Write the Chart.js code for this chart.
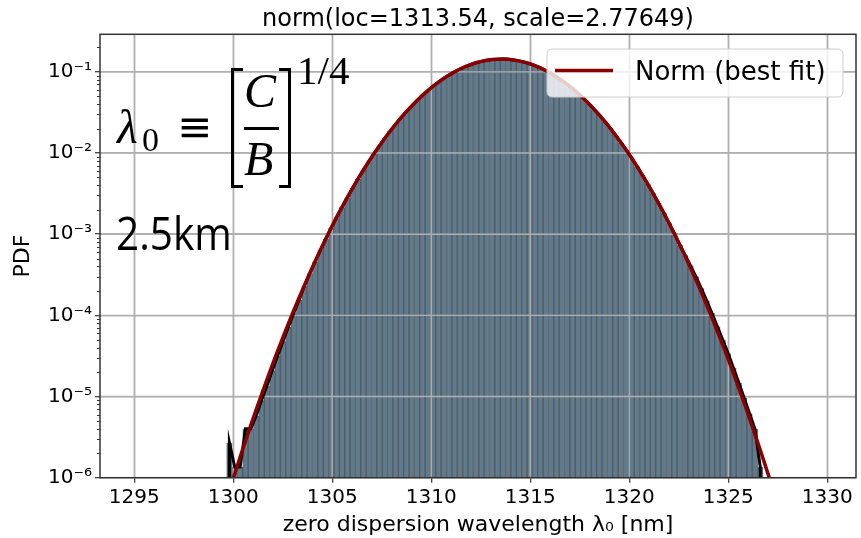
<!DOCTYPE html>
<html><head><meta charset="utf-8">
<script src="https://cdn.jsdelivr.net/npm/chart.js@4.4.1/dist/chart.umd.min.js"></script>
<style>
html,body{margin:0;padding:0;background:#fff;}
#wrap{position:relative;width:861px;height:538px;overflow:hidden;background:#fff;}
#c{position:absolute;left:0;top:0;}
.ann{position:absolute;white-space:nowrap;line-height:1;color:#000;}
.br{position:absolute;border:0 solid #000;box-sizing:border-box;}
</style></head>
<body><div id="wrap"><canvas id="c" width="861" height="538"></canvas>
<div class="ann" style="font-family:'Liberation Serif';font-style:italic;font-size:48px;left:117px;top:103px;">λ</div>
<div class="ann" style="font-family:'Liberation Serif';font-size:34px;left:142px;top:122.5px;">0</div>
<div class="ann" style="font-family:'DejaVu Sans';font-size:42px;left:177px;top:106px;">≡</div>
<div class="br" style="left:231px;top:68px;width:12px;height:120px;border-left-width:3.5px;border-top-width:3px;border-bottom-width:3px;"></div>
<div class="ann" style="font-family:'Liberation Serif';font-style:italic;font-size:48px;left:244px;top:67px;">C</div>
<div class="br" style="left:244px;top:126.5px;width:35px;height:3px;background:#000;"></div>
<div class="ann" style="font-family:'Liberation Serif';font-style:italic;font-size:48px;left:244px;top:135px;">B</div>
<div class="br" style="left:279px;top:68px;width:12px;height:120px;border-right-width:3.5px;border-top-width:3px;border-bottom-width:3px;"></div>
<div class="ann" style="font-family:'Liberation Serif';font-size:41px;left:297px;top:50px;">1/4</div>
<div class="ann" style="font-family:'Open Sans';font-size:45px;left:116px;top:210px;transform:scaleX(0.9);transform-origin:left top;">2.5km</div>
</div>
<script>
const binCenters = [
1299.805,1300.076,1300.347,1300.617,1300.888,1301.159,1301.430,1301.701,1301.972,1302.242,
1302.513,1302.784,1303.055,1303.326,1303.597,1303.867,1304.138,1304.409,1304.680,1304.951,
1305.221,1305.492,1305.763,1306.034,1306.305,1306.575,1306.846,1307.117,1307.388,1307.659,
1307.929,1308.200,1308.471,1308.742,1309.013,1309.284,1309.554,1309.825,1310.096,1310.367,
1310.638,1310.908,1311.179,1311.450,1311.721,1311.992,1312.263,1312.533,1312.804,1313.075,
1313.346,1313.617,1313.887,1314.158,1314.429,1314.700,1314.971,1315.241,1315.512,1315.783,
1316.054,1316.325,1316.596,1316.866,1317.137,1317.408,1317.679,1317.950,1318.220,1318.491,
1318.762,1319.033,1319.304,1319.574,1319.845,1320.116,1320.387,1320.658,1320.929,1321.199,
1321.470,1321.741,1322.012,1322.283,1322.553,1322.824,1323.095,1323.366,1323.637,1323.907,
1324.178,1324.449,1324.720,1324.991,1325.262,1325.532,1325.803,1326.074,1326.345,1326.616];
const histDensity = [
2.7e-6,1.35e-6,1.35e-6,4.0e-6,4.0e-6,5.8e-6,9.0e-6,1.35e-5,2.1e-5,3.15e-5,
4.8e-5,7.2e-5,1.06e-4,1.55e-4,2.30e-4,3.28e-4,4.62e-4,6.42e-4,8.80e-4,1.20e-3,
1.61e-3,2.15e-3,2.84e-3,3.71e-3,4.82e-3,6.18e-3,7.85e-3,9.88e-3,1.23e-2,1.52e-2,
1.87e-2,2.26e-2,2.72e-2,3.23e-2,3.80e-2,4.44e-2,5.13e-2,5.87e-2,6.66e-2,7.48e-2,
8.32e-2,9.17e-2,0.1001,0.1083,0.1159,0.1230,0.1292,0.1345,0.1387,0.1417,
0.1433,0.1436,0.1425,0.1401,0.1365,0.1316,0.1258,0.1190,0.1116,0.1036,
0.0953,0.0869,0.0784,0.0701,0.0620,0.0544,0.0473,0.0407,0.0347,0.0293,
0.0245,0.0203,0.0166,0.0135,0.0109,8.69e-3,6.86e-3,5.37e-3,4.16e-3,3.19e-3,
2.43e-3,1.83e-3,1.36e-3,1.01e-3,7.4e-4,5.5e-4,4.1e-4,3.0e-4,2.15e-4,1.52e-4,
1.06e-4,7.3e-5,5.0e-5,3.4e-5,2.25e-5,1.48e-5,9.6e-6,6.2e-6,4.0e-6,1.35e-6];
const outlineFloor = 1e-7;
const fitX = [1299.53, ...binCenters, 1326.88, 1327.15];
const fitPdf = [
4.3e-7,
6.97e-7,1.12e-6,1.80e-6,2.84e-6,4.45e-6,6.91e-6,1.06e-5,1.62e-5,2.44e-5,3.65e-5,
5.40e-5,7.92e-5,1.15e-4,1.65e-4,2.36e-4,3.32e-4,4.65e-4,6.44e-4,8.84e-4,1.20e-3,
1.62e-3,2.15e-3,2.84e-3,3.72e-3,4.82e-3,6.18e-3,7.85e-3,9.89e-3,1.23e-2,1.52e-2,
1.87e-2,2.26e-2,2.72e-2,3.23e-2,3.80e-2,4.44e-2,5.13e-2,5.87e-2,6.66e-2,7.48e-2,
8.32e-2,9.17e-2,0.1001,0.1083,0.1159,0.1230,0.1292,0.1345,0.1387,0.1417,
0.1433,0.1436,0.1425,0.1401,0.1365,0.1316,0.1258,0.1190,0.1116,0.1036,
0.0953,0.0869,0.0784,0.0701,0.0620,0.0544,0.0473,0.0407,0.0347,0.0293,
0.0245,0.0203,0.0166,0.0135,0.0109,8.69e-3,6.86e-3,5.37e-3,4.16e-3,3.19e-3,
2.43e-3,1.83e-3,1.36e-3,1.01e-3,7.38e-4,5.35e-4,3.84e-4,2.74e-4,1.93e-4,1.35e-4,
9.30e-5,6.37e-5,4.32e-5,2.90e-5,1.93e-5,1.27e-5,8.32e-6,5.38e-6,3.44e-6,2.19e-6,
1.39e-6,8.7e-7];
const xTickValues = [1295,1300,1305,1310,1315,1320,1325,1330];
const xTickLabels = ['1295','1300','1305','1310','1315','1320','1325','1330'];
const yTickValues = [1e-6,1e-5,1e-4,1e-3,1e-2,1e-1];
const yTickLabels = ['10⁻⁶','10⁻⁵','10⁻⁴','10⁻³','10⁻²','10⁻¹'];
const titleText = 'norm(loc=1313.54, scale=2.77649)';
const xAxisLabel = 'zero dispersion wavelength λ₀ [nm]';
const yAxisLabel = 'PDF';
const fitLabel = 'Norm (best fit)';
const histLabel = 'histogram';
const xRange = [1293.27, 1331.45];
const yRange = [1e-6, 0.29];

const FONT = 'DejaVu Sans';
Chart.defaults.font.family = FONT;
Chart.defaults.color = '#000';

const barData = binCenters.map((x, i) => ({x, y: histDensity[i]}));
const outlineData = [{x: binCenters[0], y: outlineFloor}]
  .concat(binCenters.map((x, i) => ({x, y: histDensity[i]})))
  .concat([{x: binCenters[binCenters.length - 1], y: outlineFloor}]);
const fitData = fitX.map((x, i) => ({x, y: fitPdf[i]}));

const GRID = '#b0b0b0';
const overlay = {
  id: 'overlay',
  afterDatasetDraw(chart, args) {
    if (args.index !== 0) return;
    const {ctx, chartArea: a, scales: {x, y}} = chart;
    ctx.save();
    ctx.beginPath(); ctx.rect(a.left, a.top, a.right - a.left, a.bottom - a.top); ctx.clip();
    ctx.strokeStyle = GRID; ctx.lineWidth = 1.4;
    xTickValues.forEach(v => { const p = x.getPixelForValue(v); ctx.beginPath(); ctx.moveTo(p, a.top); ctx.lineTo(p, a.bottom); ctx.stroke(); });
    yTickValues.forEach(v => { const p = y.getPixelForValue(v); ctx.beginPath(); ctx.moveTo(a.left, p); ctx.lineTo(a.right, p); ctx.stroke(); });
    ctx.restore();
  },
  afterDraw(chart) {
    const {ctx, chartArea: a, scales: {y}} = chart;
    ctx.save();
    ctx.strokeStyle = '#333'; ctx.lineWidth = 1;
    for (let e = -7; e <= 0; e++) {
      for (let k = 2; k <= 9; k++) {
        const v = k * Math.pow(10, e);
        if (v < yRange[0] || v > yRange[1]) continue;
        const p = Math.round(y.getPixelForValue(v)) + 0.5;
        ctx.beginPath(); ctx.moveTo(a.left - 3, p); ctx.lineTo(a.left, p); ctx.stroke();
      }
    }
    ctx.strokeStyle = '#333'; ctx.lineWidth = 1.5;
    ctx.strokeRect(a.left, a.top, a.right - a.left, a.bottom - a.top);
    const lx = 547, ly = 49, lw = 296, lh = 48, r = 5;
    ctx.beginPath();
    ctx.moveTo(lx + r, ly); ctx.lineTo(lx + lw - r, ly); ctx.arcTo(lx + lw, ly, lx + lw, ly + r, r);
    ctx.lineTo(lx + lw, ly + lh - r); ctx.arcTo(lx + lw, ly + lh, lx + lw - r, ly + lh, r);
    ctx.lineTo(lx + r, ly + lh); ctx.arcTo(lx, ly + lh, lx, ly + lh - r, r);
    ctx.lineTo(lx, ly + r); ctx.arcTo(lx, ly, lx + r, ly, r); ctx.closePath();
    ctx.fillStyle = 'rgba(255,255,255,0.8)'; ctx.fill();
    ctx.strokeStyle = '#cccccc'; ctx.lineWidth = 1; ctx.stroke();
    const ds = chart.data.datasets[2];
    ctx.strokeStyle = ds.borderColor; ctx.lineWidth = 3.5;
    ctx.beginPath(); ctx.moveTo(555, 70.5); ctx.lineTo(613, 70.5); ctx.stroke();
    ctx.fillStyle = '#000'; ctx.font = '26px "' + FONT + '"'; ctx.textBaseline = 'alphabetic'; ctx.textAlign = 'left';
    ctx.fillText(ds.label, 635, 80);
    ctx.restore();
  }
};

new Chart(document.getElementById('c'), {
  data: {
    datasets: [
      {type: 'bar', label: histLabel, data: barData, order: 3,
       backgroundColor: '#607b8d', borderColor: '#545b61',
       borderWidth: {left: 1, right: 1, top: 0, bottom: 0}, borderSkipped: false,
       barPercentage: 1, categoryPercentage: 1},
      {type: 'line', label: 'outline', data: outlineData, order: 2,
       borderColor: '#000', borderWidth: 3, pointRadius: 0, tension: 0, fill: false},
      {type: 'line', label: fitLabel, data: fitData, order: 1,
       borderColor: '#8b0000', borderWidth: 3.5, pointRadius: 0, tension: 0, fill: false}
    ]
  },
  options: {
    responsive: false, animation: false, devicePixelRatio: 1,
    layout: {padding: {left: 0, right: 5, top: 0, bottom: 0}},
    events: [],
    plugins: {
      legend: {display: false},
      tooltip: {enabled: false},
      title: {display: true, text: titleText, fullSize: false, color: '#000',
        font: {family: FONT, size: 24, weight: 'normal', lineHeight: 1.2}, padding: {top: 5, bottom: 0.5}}
    },
    scales: {
      x: {type: 'linear', min: xRange[0], max: xRange[1], offset: false,
        afterBuildTicks: s => { s.ticks = xTickValues.map(v => ({value: v})); },
        afterFit: s => { s.height = 60.3; },
        ticks: {autoSkip: false, maxRotation: 0, padding: 3, font: {size: 20}, color: '#000',
          callback: (v, i) => xTickLabels[i]},
        grid: {offset: false, color: GRID, lineWidth: 1.4, tickLength: 5, tickColor: '#333', tickWidth: 1.2},
        border: {display: false},
        title: {display: true, text: xAxisLabel, font: {size: 22, lineHeight: 1.2}, color: '#000', padding: {top: 0, bottom: 0}}
      },
      y: {type: 'logarithmic', min: yRange[0], max: yRange[1],
        afterBuildTicks: s => { s.ticks = yTickValues.map(v => ({value: v, major: true})); },
        afterFit: s => { s.width = 100; },
        ticks: {autoSkip: false, padding: 3, font: {size: 20}, color: '#000',
          callback: (v, i) => yTickLabels[i]},
        grid: {offset: false, color: GRID, lineWidth: 1.4, tickLength: 5, tickColor: '#333', tickWidth: 1.2},
        border: {display: false},
        title: {display: true, text: yAxisLabel, font: {size: 22, lineHeight: 1.2}, color: '#000', padding: {top: 10, bottom: 0}}
      }
    }
  },
  plugins: [overlay]
});
</script>
</body></html>
